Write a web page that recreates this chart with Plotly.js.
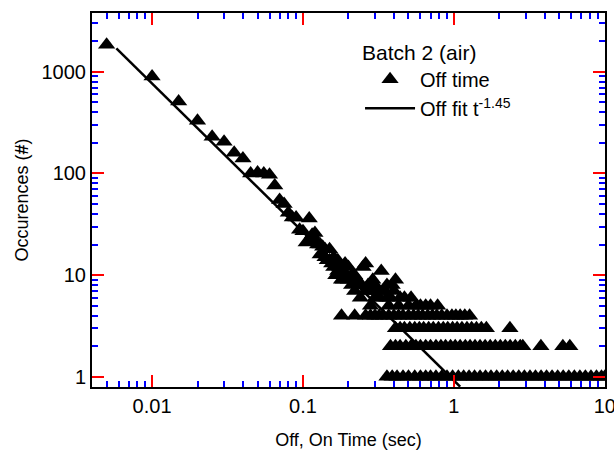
<!DOCTYPE html>
<html>
<head>
<meta charset="utf-8">
<script src="https://cdn.plot.ly/plotly-3.0.1.min.js"></script>
<style>
  html, body { margin: 0; padding: 0; background: #fff; }
  #chart { width: 614px; height: 456px; }
</style>
</head>
<body>
<div id="chart"></div>
<script>
// ---- Data ----
var headX = [0.005, 0.01, 0.015, 0.02, 0.025, 0.03, 0.035, 0.04, 0.045, 0.05,
             0.055, 0.06, 0.065, 0.07, 0.075, 0.08, 0.085, 0.09, 0.095, 0.1,
             0.105, 0.11, 0.115, 0.12, 0.12, 0.125, 0.13, 0.13, 0.135, 0.14,
             0.14, 0.145, 0.15, 0.15, 0.155, 0.16, 0.16, 0.165, 0.17, 0.17,
             0.175, 0.18, 0.18, 0.185, 0.19, 0.195, 0.2, 0.2, 0.21, 0.21,
             0.22, 0.22, 0.23, 0.24, 0.24, 0.25, 0.26, 0.26, 0.27, 0.28,
             0.28, 0.29, 0.3, 0.3, 0.31, 0.32, 0.33, 0.34, 0.35, 0.36,
             0.36, 0.37, 0.38, 0.39, 0.4, 0.41, 0.43, 0.44, 0.47, 0.5,
             0.52, 0.56, 0.6, 0.65, 0.7, 0.78];
var headY = [1840, 900, 510, 330, 230, 205, 160, 140, 100, 102,
             100, 97, 76, 55, 50, 41, 37, 37, 28, 27,
             21, 36, 25, 26, 22, 20, 16, 20, 19, 18,
             15, 14, 18, 14, 13, 15, 12, 10, 11, 14,
             12, 9, 11, 9, 13, 10, 9, 12, 8, 10,
             7, 10, 9, 6, 8, 12, 13, 7, 8, 5,
             7, 9, 6, 8, 7, 6, 11, 7, 7, 6,
             8, 5, 6, 8, 7, 9, 5, 6, 6, 5,
             6, 5, 5, 5, 5, 5];
var row4Count = 4;
var row4X = [0.18, 0.22, 0.26, 0.28, 0.3, 0.32, 0.34, 0.37, 0.4, 0.43, 0.46, 0.5,
             0.54, 0.58, 0.62, 0.67, 0.72, 0.77, 0.83, 0.9, 0.97, 1.03, 1.1, 1.18, 1.27];
var row3Count = 3;
var row3X = [0.41, 0.44, 0.47, 0.51, 0.55, 0.59, 0.63, 0.68, 0.73, 0.79, 0.85, 0.91,
             0.98, 1.05, 1.13, 1.22, 1.31, 1.41, 1.52, 1.64, 2.35];
var row2Count = 2;
var row2X = [0.38, 0.41, 0.44, 0.48, 0.52, 0.56, 0.6, 0.65, 0.7, 0.76, 0.82, 0.88,
             0.95, 1.02, 1.1, 1.19, 1.28, 1.38, 1.49, 1.61, 1.74, 1.88, 2.03, 2.19,
             2.36, 2.55, 2.75, 2.86, 3.77, 5.27, 5.86];
var row1Count = 1;
var row1X = [0.36, 0.39, 0.42, 0.46, 0.5, 0.55, 0.6, 0.65, 0.7, 0.76, 0.83, 0.9,
             0.98, 1.07, 1.16, 1.26, 1.37, 1.49, 1.62, 1.76, 1.92, 2.09, 2.27, 2.47,
             2.69, 2.93, 3.19, 3.47, 3.78, 4.11, 4.47, 4.87, 5.3, 5.77, 6.28, 6.83,
             7.43, 8.09, 8.8, 9.5, 10];
var fitX = [0.0058, 1.1];
var fitY = [1700, 0.8];
var xRange = [0.004, 10];
var yRange = [0.795, 3775];
var xTickVals = [0.01, 0.1, 1, 10];
var xTickText = ['0.01', '0.1', '1', '10'];
var yTickVals = [1, 10, 100, 1000];
var yTickText = ['1', '10', '100', '1000'];
var xMinorVals = [0.005, 0.006, 0.007, 0.008, 0.009, 0.02, 0.03, 0.04, 0.05, 0.06, 0.07, 0.08, 0.09,
                  0.2, 0.3, 0.4, 0.5, 0.6, 0.7, 0.8, 0.9, 2, 3, 4, 5, 6, 7, 8, 9];
var yMinorVals = [2, 3, 4, 5, 6, 7, 8, 9, 20, 30, 40, 50, 60, 70, 80, 90,
                  200, 300, 400, 500, 600, 700, 800, 900, 2000, 3000];

function fill(n, v) { var a = []; for (var i = 0; i < n; i++) a.push(v); return a; }
var offX = headX.concat(row4X, row3X, row2X, row1X);
var offY = headY.concat(fill(row4X.length, row4Count), fill(row3X.length, row3Count),
                        fill(row2X.length, row2Count), fill(row1X.length, row1Count));

var FONT = 'Liberation Sans, Arial, Helvetica, sans-serif';

var traces = [
  { x: offX, y: offY, type: 'scatter', mode: 'markers', name: 'Off time',
    marker: { symbol: 'triangle-up', size: 15, color: 'black' } },
  { x: fitX, y: fitY, type: 'scatter', mode: 'lines', name: 'Off fit t<sup>-1.45</sup>',
    line: { color: 'black', width: 2.5 } }
];

function makeAxis(tv, tt, mv, rng, title, standoff) {
  return {
    type: 'log',
    range: [Math.log10(rng[0]), Math.log10(rng[1]) + 0.001],
    showgrid: false, zeroline: false,
    showline: true, linecolor: 'black', linewidth: 2, mirror: 'allticks',
    tickmode: 'array', tickvals: tv, ticktext: tt,
    ticks: 'inside', ticklen: 12, tickwidth: 2, tickcolor: 'red',
    ticklabeloverflow: 'allow',
    tickfont: { family: FONT, size: 20, color: 'black' },
    minor: { tickmode: 'array', tickvals: mv, ticks: 'inside', ticklen: 6, tickwidth: 2,
             tickcolor: 'blue', showgrid: false },
    title: { text: title, font: { family: FONT, size: 18, color: 'black' }, standoff: standoff }
  };
}

var layout = {
  width: 614, height: 456,
  margin: { l: 92, r: 9, t: 13, b: 69 },
  showlegend: true,
  legend: {
    x: 0.5225, y: 0.948, xanchor: 'left', yanchor: 'top',
    bgcolor: 'rgba(0,0,0,0)', borderwidth: 0,
    font: { family: FONT, size: 20, color: 'black' },
    title: { text: 'Batch 2 (air)', font: { family: FONT, size: 21, color: 'black' } },
    itemwidth: 50, tracegroupgap: 0
  },
  xaxis: makeAxis(xTickVals, xTickText, xMinorVals, xRange, 'Off, On Time (sec)', 17),
  yaxis: makeAxis(yTickVals, yTickText, yMinorVals, yRange, 'Occurences (<b>#</b>)', 8)
};

Plotly.newPlot('chart', traces, layout, { displayModeBar: false });
</script>
</body>
</html>
